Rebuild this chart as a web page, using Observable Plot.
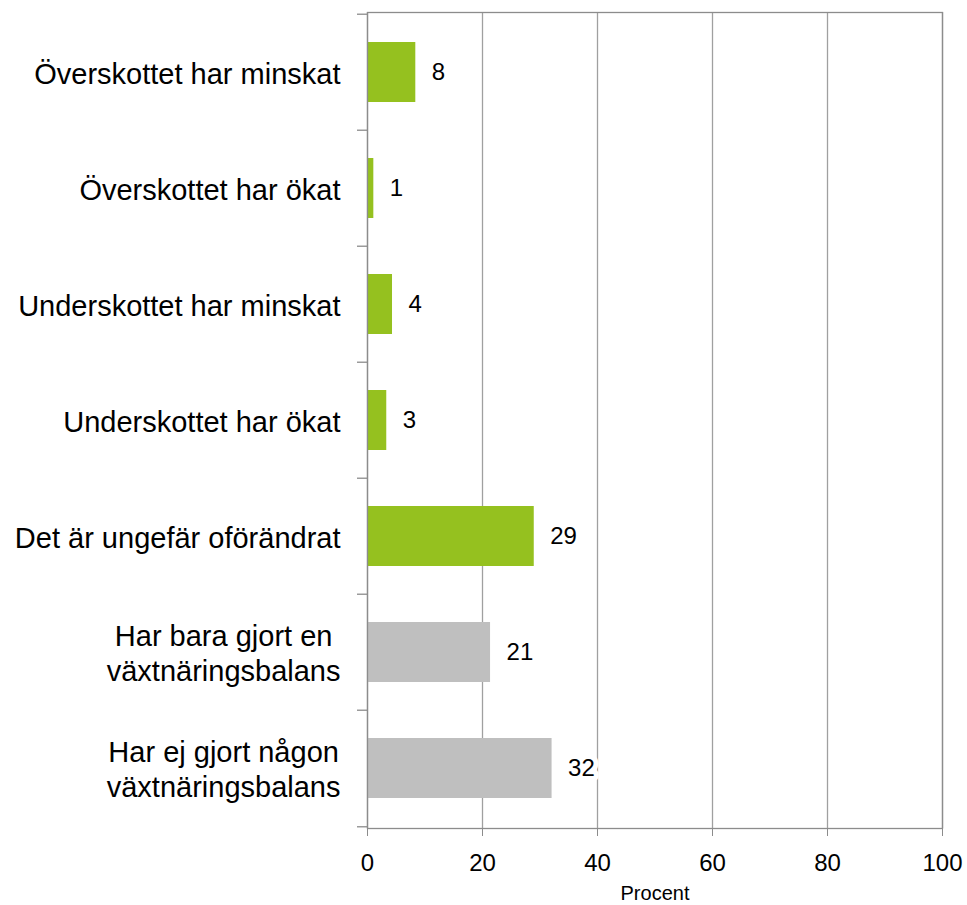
<!DOCTYPE html>
<html>
<head>
<meta charset="utf-8">
<script src="https://cdn.jsdelivr.net/npm/d3@7"></script>
<script src="https://cdn.jsdelivr.net/npm/@observablehq/plot@0.6"></script>
<style>
  html, body { margin: 0; padding: 0; background: #fff; }
  body { font-family: "Liberation Sans", Arial, sans-serif; }
</style>
</head>
<body>
<div id="chart"></div>
<script>
const categories = [
  "Överskottet har minskat",
  "Överskottet har ökat",
  "Underskottet har minskat",
  "Underskottet har ökat",
  "Det är ungefär oförändrat",
  "Har bara gjort en\nväxtnäringsbalans",
  "Har ej gjort någon\nväxtnäringsbalans"
];
const values = [8.4, 1.1, 4.35, 3.35, 29.0, 21.4, 32.1];
const valueLabels = ["8", "1", "4", "3", "29", "21", "32"];
const groups = ["answer", "answer", "answer", "answer", "answer", "other", "other"];
const xTicks = [0, 20, 40, 60, 80, 100];
const xLabel = "Procent";

const data = categories.map((c, i) => ({cat: c, value: values[i], label: valueLabels[i], group: groups[i]}));

const W = 967, H = 905;
const mTop = 12, mBottom = 77, mLeft = 367, mRight = 25;
const step = (H - mTop - mBottom) / categories.length;
const pInner = 0.485;
const axisColor = "#8c8c8c";
const gridColor = "#a0a0a0";

const chart = Plot.plot({
  width: W,
  height: H,
  marginTop: mTop,
  marginBottom: mBottom,
  marginLeft: mLeft,
  marginRight: mRight,
  style: {fontFamily: "'Liberation Sans', Arial, sans-serif", color: "#000", background: "#fff"},
  x: {domain: [0, 100], label: null},
  y: {domain: categories, paddingInner: pInner, paddingOuter: pInner / 2, label: null},
  color: {domain: ["answer", "other"], range: ["#95c11f", "#bfbfbf"]},
  marks: [
    Plot.gridX(xTicks, {stroke: gridColor, strokeOpacity: 1, strokeWidth: 1.3}),
    Plot.barX(data, {y: "cat", x: "value", fill: "group"}),
    Plot.text(data, {
      y: "cat", x: "value", text: "label", textAnchor: "start", dx: 16,
      fontSize: 24, fill: "#000", stroke: "#fff", strokeWidth: 10, paintOrder: "stroke"
    }),
    Plot.frame({stroke: axisColor, strokeWidth: 1.3}),
    Plot.ruleY(categories, {y: d => d, dy: -step / 2, x1: 0, x2: 0, insetLeft: -10, stroke: axisColor, strokeWidth: 1.3}),
    Plot.ruleY(categories.slice(-1), {y: d => d, dy: step / 2, x1: 0, x2: 0, insetLeft: -10, stroke: axisColor, strokeWidth: 1.3}),
    Plot.axisX({ticks: xTicks, tickSize: 8, tickPadding: 17, fontSize: 24, stroke: axisColor, fill: "#000", label: null}),
    Plot.axisY({tickSize: 0, tickPadding: 27, fontSize: 29, lineHeight: 1.2, fill: "#000", label: null}),
    Plot.text([xLabel], {frameAnchor: "bottom", dy: 71, fontSize: 20, fill: "#000"})
  ]
});

document.getElementById("chart").appendChild(chart);

// Center multi-line category labels as a block (right edge at the tick padding)
d3.select(chart).selectAll('g[aria-label="y-axis tick label"] text').each(function() {
  const tspans = this.querySelectorAll("tspan");
  if (tspans.length > 1) {
    let maxW = 0;
    tspans.forEach(t => { maxW = Math.max(maxW, t.getComputedTextLength()); });
    const anchor = this.getAttribute("x") ? +this.getAttribute("x") : 0;
    this.setAttribute("text-anchor", "middle");
    tspans.forEach(t => t.setAttribute("x", anchor - maxW / 2));
  }
});
</script>
</body>
</html>
